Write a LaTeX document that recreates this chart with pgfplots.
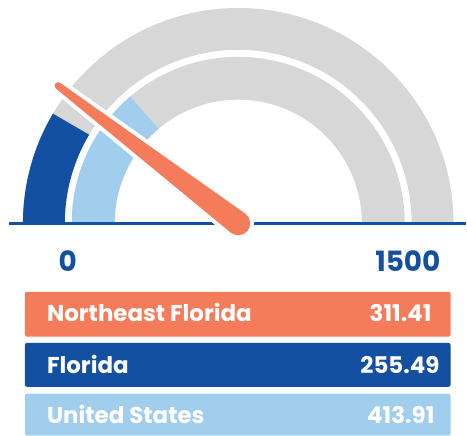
\documentclass[border=0pt]{standalone}
\usepackage{fontspec}
\setmainfont{Poppins}
\usepackage{pgfplots}
\usepackage{pgfplotstable}
\pgfplotsset{compat=1.18}

\definecolor{neorange}{HTML}{F47C5B}
\definecolor{fldark}{HTML}{1350A1}
\definecolor{uslight}{HTML}{A2CEEE}
\definecolor{gaugegray}{HTML}{D7D7D7}

% gauge values, scale 0..1500
\pgfplotstableread{
region value
NortheastFlorida 311.41
Florida 255.49
UnitedStates 413.91
}\gaugetable

\pgfplotstablegetelem{0}{value}\of\gaugetable \edef\vNE{\pgfplotsretval}
\pgfplotstablegetelem{1}{value}\of\gaugetable \edef\vFL{\pgfplotsretval}
\pgfplotstablegetelem{2}{value}\of\gaugetable \edef\vUS{\pgfplotsretval}
% angles (180 = 0, 0 = 1500)
\pgfmathsetmacro\aNE{180-\vNE*0.12}
\pgfmathsetmacro\aFL{180-\vFL*0.12}
\pgfmathsetmacro\aUS{180-\vUS*0.12}
% needle outline points, centre (239,213)
\pgfmathsetmacro\pAx{239+12*cos(\aNE+90)}
\pgfmathsetmacro\pAy{213+12*sin(\aNE+90)}
\pgfmathsetmacro\pBx{239+227.5*cos(\aNE)+3.5*cos(\aNE+90)}
\pgfmathsetmacro\pBy{213+227.5*sin(\aNE)+3.5*sin(\aNE+90)}
\pgfmathsetmacro\pCx{239+12*cos(\aNE-90)}
\pgfmathsetmacro\pCy{213+12*sin(\aNE-90)}
\pgfmathsetmacro\sA{\aNE+90}
\pgfmathsetmacro\sB{\aNE-90}
\pgfmathsetmacro\sC{\aNE-270}

\begin{document}
\begin{tikzpicture}
\begin{axis}[
  x=1pt, y=1pt,
  xmin=0, xmax=467, ymin=0, ymax=437,
  scale only axis,
  hide axis,
  clip=false,
]
\path (axis cs:0,0) rectangle (axis cs:467,437);
% rings
\draw[gaugegray, line width=42pt] (axis cs:44,213) arc[start angle=180, end angle=0, radius=195pt];
\draw[gaugegray, line width=43pt] (axis cs:93.5,213) arc[start angle=180, end angle=0, radius=145.5pt];
\draw[fldark, line width=42pt] (axis cs:44,213) arc[start angle=180, end angle=\aFL, radius=195pt];
\draw[uslight, line width=43pt] (axis cs:93.5,213) arc[start angle=180, end angle=\aUS, radius=145.5pt];
% baseline
\draw[fldark, line width=3pt] (axis cs:9,213) -- (axis cs:467,213);
% needle
\path[draw=white, line width=8pt, fill=neorange, line join=round]
  (axis cs:\pAx,\pAy) -- (axis cs:\pBx,\pBy)
  arc[start angle=\sA, end angle=\sB, radius=3.5pt]
  -- (axis cs:\pCx,\pCy)
  arc[start angle=\sB, end angle=\sC, radius=12pt] -- cycle;
\path[fill=neorange]
  (axis cs:\pAx,\pAy) -- (axis cs:\pBx,\pBy)
  arc[start angle=\sA, end angle=\sB, radius=3.5pt]
  -- (axis cs:\pCx,\pCy)
  arc[start angle=\sB, end angle=\sC, radius=12pt] -- cycle;
% scale labels
\node[anchor=base, text=fldark, font=\bfseries\fontsize{28}{28}\selectfont, inner sep=0pt] at (axis cs:68,164.7) {0};
\node[anchor=base east, text=fldark, font=\bfseries\fontsize{28}{28}\selectfont, inner sep=0pt] at (axis cs:442,164.7) {1500};
% legend boxes
\fill[neorange, rounded corners=2pt] (axis cs:25,99.3) rectangle (axis cs:452,144.3);
\fill[fldark, rounded corners=2pt] (axis cs:25,49) rectangle (axis cs:452,93);
\fill[uslight, rounded corners=2pt] (axis cs:25,0) rectangle (axis cs:452,42);
\begin{scope}[every node/.style={text=white, font=\bfseries\fontsize{23}{23}\selectfont, inner sep=0pt}]
\node[anchor=base west] at (axis cs:47,114.3) {Northeast Florida};
\node[anchor=base east] at (axis cs:433,114.3) {\vNE};
\node[anchor=base west] at (axis cs:47,62) {Florida};
\node[anchor=base east] at (axis cs:441,62) {\vFL};
\node[anchor=base west] at (axis cs:47,12) {United States};
\node[anchor=base east] at (axis cs:436,12) {\vUS};
\end{scope}
\end{axis}
\end{tikzpicture}
\end{document}
